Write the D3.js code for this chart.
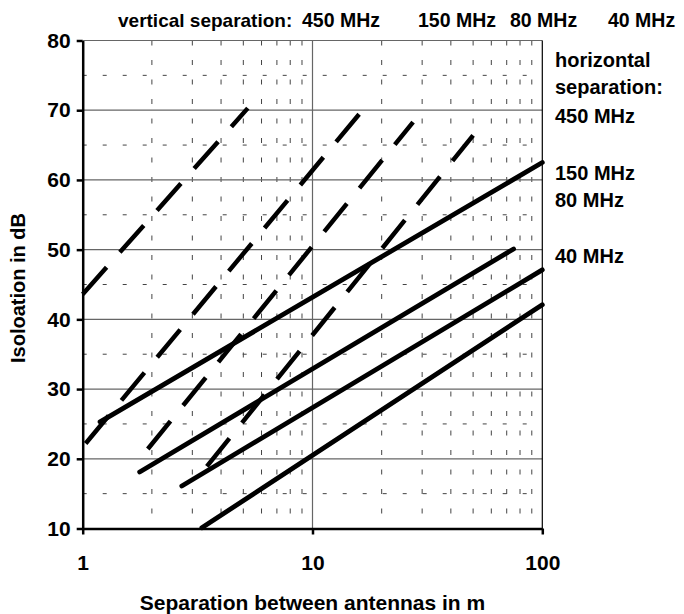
<!DOCTYPE html>
<html>
<head>
<meta charset="utf-8">
<script src="https://cdn.jsdelivr.net/npm/d3@7"></script>
<style>
  body { margin: 0; background: #fff; }
  text { font-family: "Liberation Sans", Arial, sans-serif; font-weight: bold; fill: #000; }
</style>
</head>
<body>
<script>
// data
var xTicks = [1, 10, 100];
var yTicks = [10, 20, 30, 40, 50, 60, 70, 80];
var freqLabels = ["450 MHz", "150 MHz", "80 MHz", "40 MHz"];

// vertical separation (dashed), start/end points
var vertX = [[1, 5.23], [1.03, 16.4], [1.92, 27.4], [3.47, 50]];
var vertY = [[43.6, 70.3], [22.2, 69.9], [21.4, 68.3], [18.9, 66.4]];

// horizontal separation (solid), start/end points
var horX = [[1.19, 100], [1.77, 75], [2.7, 100], [3.3, 100]];
var horY = [[25.3, 62.5], [18.1, 50.1], [16.1, 47.1], [10.1, 42.1]];

var svg = d3.select("body").append("svg")
    .attr("width", 684)
    .attr("height", 614);

var margin = {top: 40.5, right: 141.7, bottom: 85.5, left: 82.7},
    width = +svg.attr("width") - margin.left - margin.right,
    height = +svg.attr("height") - margin.top - margin.bottom,
    g = svg.append("g").attr("transform", "translate(" + margin.left + "," + margin.top + ")");

var x = d3.scaleLog().domain([1, 100]).range([0, width]);
var y = d3.scaleLinear().domain([10, 80]).range([height, 0]);

// minor grid
var minorX = [];
[1, 10].forEach(function(dec) { for (var k = 2; k <= 9; k++) minorX.push(k * dec); });
var minorY = [15, 25, 35, 45, 55, 65, 75];

g.selectAll(".vminor").data(minorX).enter().append("line")
    .attr("x1", function(d) { return x(d); })
    .attr("x2", function(d) { return x(d); })
    .attr("y1", 0).attr("y2", height)
    .attr("stroke", "#444").attr("stroke-width", 1)
    .attr("stroke-dasharray", "5,14.5");

g.selectAll(".hminor").data(minorY).enter().append("line")
    .attr("x1", 0).attr("x2", width)
    .attr("y1", function(d) { return y(d); })
    .attr("y2", function(d) { return y(d); })
    .attr("stroke", "#444").attr("stroke-width", 1)
    .attr("stroke-dasharray", "4,16");

// major grid
g.selectAll(".hmajor").data(yTicks.slice(1)).enter().append("line")
    .attr("x1", 0).attr("x2", width)
    .attr("y1", function(d) { return y(d); })
    .attr("y2", function(d) { return y(d); })
    .attr("stroke", "#666").attr("stroke-width", 1.2);

g.selectAll(".vmajor").data([10]).enter().append("line")
    .attr("x1", function(d) { return x(d); })
    .attr("x2", function(d) { return x(d); })
    .attr("y1", 0).attr("y2", height)
    .attr("stroke", "#666").attr("stroke-width", 1.2);

g.append("line")
    .attr("x1", x(100)).attr("x2", x(100))
    .attr("y1", 0).attr("y2", height)
    .attr("stroke", "#000").attr("stroke-width", 1.2);

// curves
var line = d3.line()
    .x(function(d) { return x(d[0]); })
    .y(function(d) { return y(d[1]); });

g.selectAll(".vert").data(vertX).enter().append("path")
    .attr("d", function(d, i) { return line(d3.zip(vertX[i], vertY[i])); })
    .attr("fill", "none")
    .attr("stroke", "#000")
    .attr("stroke-width", 4.5)
    .attr("stroke-dasharray", "36,20");

g.selectAll(".hor").data(horX).enter().append("path")
    .attr("d", function(d, i) { return line(d3.zip(horX[i], horY[i])); })
    .attr("fill", "none")
    .attr("stroke", "#000")
    .attr("stroke-width", 4.8)
    .attr("stroke-linecap", "round");

// axes
var yAxis = g.append("g")
    .call(d3.axisLeft(y).tickValues(yTicks).tickSize(6).tickPadding(6).tickSizeOuter(0));
var xAxis = g.append("g")
    .attr("transform", "translate(0," + height + ")")
    .call(d3.axisBottom(x).tickValues(xTicks).tickFormat(d3.format("d")).tickSize(6).tickPadding(21).tickSizeOuter(0));

[yAxis, xAxis].forEach(function(a) {
  a.select(".domain").attr("stroke", "#000").attr("stroke-width", 2.5);
  a.selectAll(".tick line").attr("stroke", "#000").attr("stroke-width", 2.5);
  a.selectAll(".tick text")
      .style("font-family", "'Liberation Sans', Arial, sans-serif")
      .style("font-weight", "bold")
      .style("font-size", "21px")
      .attr("fill", "#000");
});

// axis titles
svg.append("text")
    .attr("x", margin.left + x(10))
    .attr("y", 610)
    .attr("text-anchor", "middle")
    .style("font-size", "21px")
    .text("Separation between antennas in m");

svg.append("text")
    .attr("transform", "translate(25," + 288 + ") rotate(-90)")
    .attr("text-anchor", "middle")
    .style("font-size", "20px")
    .text("Isoloation in dB");

// top annotation
svg.append("text")
    .attr("x", 118).attr("y", 27)
    .style("font-size", "19px")
    .text("vertical separation:");
var topX = [302, 418, 510, 608];
svg.selectAll(".topfreq").data(freqLabels).enter().append("text")
    .attr("x", function(d, i) { return topX[i]; })
    .attr("y", 27)
    .style("font-size", "19.5px")
    .text(function(d) { return d; });

// right annotation
var rightLines = ["horizontal", "separation:", freqLabels[0], freqLabels[1], freqLabels[2], freqLabels[3]];
var rightY = [67, 94, 123, 180, 207, 263];
svg.selectAll(".rightlab").data(rightLines).enter().append("text")
    .attr("x", 555)
    .attr("y", function(d, i) { return rightY[i]; })
    .style("font-size", "20px")
    .text(function(d) { return d; });
</script>
</body>
</html>
